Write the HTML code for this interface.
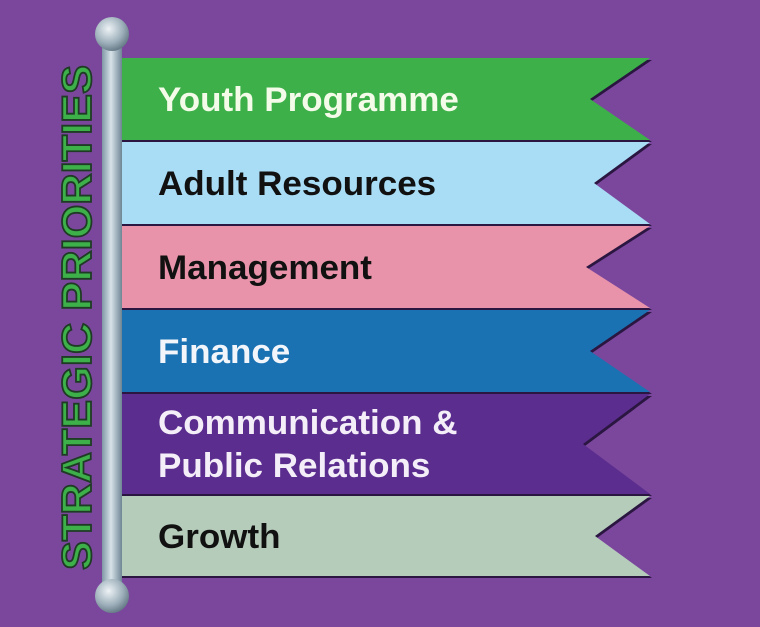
<!DOCTYPE html>
<html><head><meta charset="utf-8"><style>
html,body{margin:0;padding:0;background:#7b479d;}
svg{display:block}
text{font-family:"Liberation Sans",Arial,sans-serif;font-weight:bold;}
</style></head><body>
<svg width="760" height="627" viewBox="0 0 760 627">
<defs>
<linearGradient id="pole" x1="0" x2="1" y1="0" y2="0">
<stop offset="0" stop-color="#7f97a6"/><stop offset="0.45" stop-color="#d7e2e8"/><stop offset="1" stop-color="#6e8594"/>
</linearGradient>
<radialGradient id="ball" cx="0.4" cy="0.35" r="0.7">
<stop offset="0" stop-color="#eef3f6"/><stop offset="0.6" stop-color="#9eb0bb"/><stop offset="1" stop-color="#5e7380"/>
</radialGradient>
</defs>
<rect width="760" height="627" fill="#7b479d"/>
<text transform="translate(91,570) rotate(-90)" font-size="42" textLength="505" lengthAdjust="spacingAndGlyphs" fill="#3db04a" stroke="#1f3b25" stroke-width="1.8">STRATEGIC PRIORITIES</text>
<g id="banners"></g>
<rect x="102" y="40" width="20" height="555" fill="url(#pole)"/>
<circle cx="112" cy="34" r="17" fill="url(#ball)"/>
<circle cx="112" cy="596" r="17" fill="url(#ball)"/>
</svg>
<script>
const labels=[["Youth Programme"],["Adult Resources"],["Management"],["Finance"],["Communication &","Public Relations"],["Growth"]];
const tops=[58,142,226,310,394,496];
const bottoms=[140,224,308,392,494,576];
const fills=["#3db04a","#a9dcf5","#e893a9","#1b72b3","#5b2d8e","#b6ccbb"];
const textColors=["#f4fbe8","#111","#111","#f2f6fb","#f3eef8","#111"];
const notches=[590,594,586,590,583,595];
const names=["youth-programme","adult-resources","management","finance","communication-public-relations","growth"];
const g=document.getElementById('banners');
const NS="http://www.w3.org/2000/svg";
for(let i=0;i<labels.length;i++){
  const t=tops[i],b=bottoms[i],m=(t+b)/2,r=650;
  const grp=document.createElementNS(NS,'g');
  
  
  const sh=document.createElementNS(NS,'polygon');
  sh.setAttribute('points',`120,${t+2} ${r+2},${t+2} ${notches[i]+2},${m+2} ${r+2},${b+2} 120,${b+2}`);
  sh.setAttribute('fill','#2a1640');
  
  
  grp.appendChild(sh);
  const p=document.createElementNS(NS,'polygon');
  p.setAttribute('points',`120,${t} ${r},${t} ${notches[i]},${m} ${r},${b} 120,${b}`);
  p.setAttribute('fill',fills[i]);
  
  
  grp.appendChild(p);
  const lines=labels[i];
  lines.forEach((s,k)=>{
    const tx=document.createElementNS(NS,'text');
    tx.setAttribute('x',158);
    const y = lines.length===1 ? m+12 : m-10+k*43;
    tx.setAttribute('y',y);
    tx.setAttribute('font-size','34');
    tx.setAttribute('fill',textColors[i]);
    tx.setAttribute('transform','translate(158 0) scale(1.03 1) translate(-158 0)');
    tx.textContent=s;
    
    
    grp.appendChild(tx);
  });
  g.appendChild(grp);
}
</script>
</body></html>
